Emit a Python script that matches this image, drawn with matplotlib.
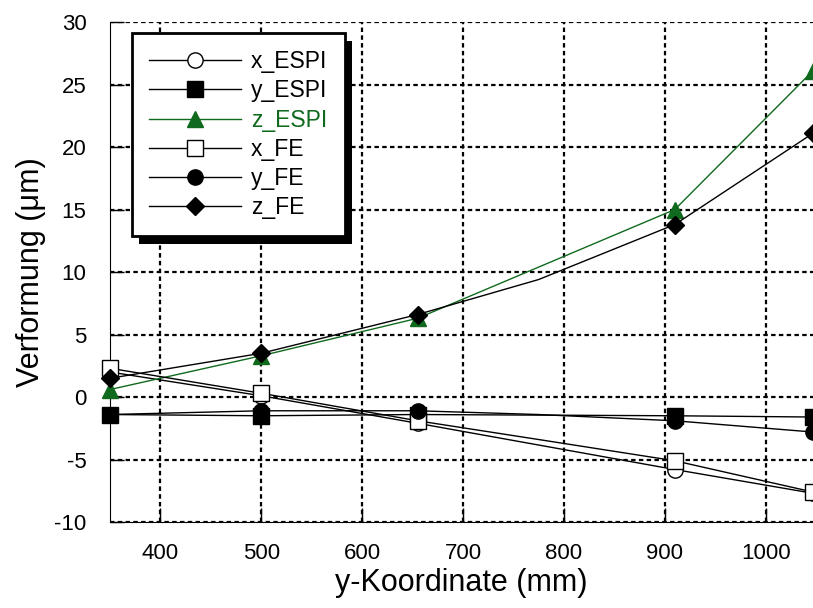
import matplotlib
matplotlib.use('Agg')
import matplotlib.pyplot as plt
from matplotlib.patches import Rectangle

plt.rcParams['font.family'] = ['Liberation Sans', 'DejaVu Sans']
plt.rcParams['axes.unicode_minus'] = False

# Messpunkte (y-Koordinate in mm)
y_pos = [350, 500, 655, 910, 1047]
# FE-Rechnung hat einen Zwischenknoten ohne Marker
y_pos_fe = [350, 500, 655, 775, 910, 1047]

x_espi = [2.0, 0.1, -2.1, -5.8, -7.7]
y_espi = [-1.4, -1.5, -1.4, -1.5, -1.6]
z_espi = [0.6, 3.3, 6.3, 15.0, 26.1]
x_fe = [2.3, 0.3, -1.9, -3.4, -5.1, -7.6]
y_fe = [-1.4, -1.1, -1.1, -1.4, -1.9, -2.8]
z_fe = [1.5, 3.5, 6.6, 9.4, 13.8, 21.1]
fe_marks = [0, 1, 2, 4, 5]

green = '#106a1e'

fig = plt.figure(figsize=(8.13, 6.08), dpi=100)
ax = fig.add_axes([0.1353, 0.1414, 0.8647, 0.8224])

ms = 11
ax.plot(y_pos, x_espi, color='k', lw=1, marker='o', ms=ms, mfc='white', mec='k', mew=1,
        label='x_ESPI', clip_on=False, zorder=3)
ax.plot(y_pos, y_espi, color='k', lw=1, marker='s', ms=ms, mfc='k', mec='k',
        label='y_ESPI', clip_on=False, zorder=3)
ax.plot(y_pos, z_espi, color=green, lw=1, marker='^', ms=ms + 1, mfc=green, mec=green,
        label='z_ESPI', clip_on=False, zorder=3)
ax.plot(y_pos_fe, x_fe, color='k', lw=1, marker='s', ms=ms, mfc='white', mec='k', mew=1,
        markevery=fe_marks, label='x_FE', clip_on=False, zorder=4)
ax.plot(y_pos_fe, y_fe, color='k', lw=1, marker='o', ms=ms, mfc='k', mec='k',
        markevery=fe_marks, label='y_FE', clip_on=False, zorder=4)
ax.plot(y_pos_fe, z_fe, color='k', lw=1, marker='D', ms=ms - 2, mfc='k', mec='k',
        markevery=fe_marks, label='z_FE', clip_on=False, zorder=4)

ax.set_xlim(350, 1047)
ax.set_ylim(-10, 30)
ax.set_xticks([400, 500, 600, 700, 800, 900, 1000])
ax.set_yticks(range(-10, 31, 5))
ax.tick_params(labelsize=16, direction='in', length=10, width=1)
ax.tick_params(axis='x', pad=15)
ax.tick_params(axis='y', pad=17)

ax.grid(True, color='k', linestyle=(0, (2, 1.5)), linewidth=1.6)
ax.spines['top'].set_visible(False)
ax.spines['right'].set_visible(False)

ax.set_xlabel('y-Koordinate (mm)', fontsize=22, labelpad=3)
ax.set_ylabel('Verformung (μm)', fontsize=22, labelpad=6)

leg = ax.legend(loc='upper left', bbox_to_anchor=(0.031, 0.978), borderaxespad=0,
                fontsize=16.5, handlelength=4.0, handletextpad=0.45, labelspacing=0.27,
                borderpad=0.75, fancybox=False, framealpha=1, edgecolor='k')
leg.get_frame().set_linewidth(2)
for txt, line in zip(leg.get_texts(), leg.get_lines()):
    if line.get_color() == green:
        txt.set_color(green)
leg.set_zorder(10)

# Schatten des Legendenrahmens
fig.canvas.draw()
bb = leg.get_window_extent()
shadow = Rectangle((bb.x0 + 7, bb.y0 - 8), bb.width, bb.height, transform=None,
                   facecolor='k', edgecolor='none', zorder=9, clip_on=False)
ax.add_artist(shadow)

fig.savefig('out.png', dpi=100)
